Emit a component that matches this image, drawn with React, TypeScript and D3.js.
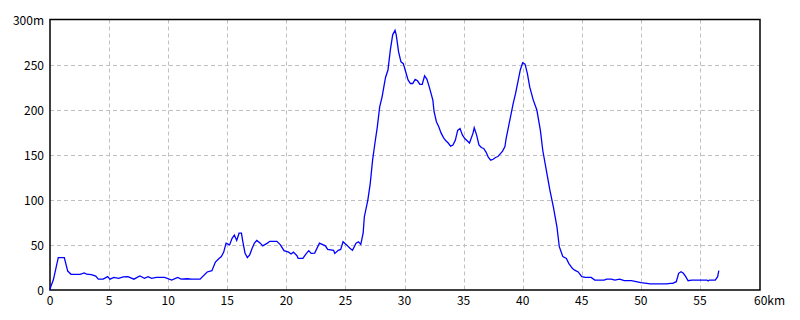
import React from "react";
import * as d3 from "d3";

const distKm: number[] = [
  0, 0.06, 0.28, 0.5, 0.7, 1.21, 1.5, 1.78, 2.54, 2.9, 3.1, 3.5, 3.87, 4.09, 4.5, 4.88, 5.08, 5.4, 5.8, 6.2,
  6.6, 7.1, 7.6, 8.0, 8.3, 8.6, 9.0, 9.7, 10.3, 10.8, 11.1, 11.6, 12.0, 12.7, 13.3, 13.7, 14.0, 14.3, 14.5, 14.7,
  14.9, 15.2, 15.4, 15.6, 15.8, 16.0, 16.2, 16.3, 16.5, 16.7, 16.9, 17.1, 17.3, 17.5, 17.8, 18.0, 18.4, 18.6, 19.2, 19.5,
  19.8, 20.2, 20.4, 20.6, 20.9, 21.0, 21.4, 21.7, 21.9, 22.1, 22.4, 22.8, 23.3, 23.5, 24.0, 24.1, 24.4, 24.6, 24.8, 25.1,
  25.4, 25.6, 25.9, 26.1, 26.3, 26.5, 26.6, 26.9, 27.1, 27.3, 27.5, 27.7, 27.9, 28.1, 28.3, 28.4, 28.6, 28.8, 29.0, 29.2,
  29.3, 29.5, 29.7, 29.9, 30.1, 30.3, 30.5, 30.7, 30.9, 31.1, 31.3, 31.5, 31.7, 31.9, 32.1, 32.4, 32.5, 32.7, 32.9, 33.1,
  33.3, 33.5, 33.7, 33.9, 34.1, 34.3, 34.5, 34.7, 34.9, 35.1, 35.3, 35.5, 35.8, 35.9, 36.1, 36.3, 36.5, 36.7, 36.9, 37.1,
  37.3, 37.5, 37.7, 37.9, 38.1, 38.3, 38.5, 38.6, 38.8, 39.0, 39.2, 39.4, 39.6, 39.8, 40.0, 40.2, 40.4, 40.6, 40.9, 41.2,
  41.5, 41.7, 42.0, 42.3, 42.6, 42.9, 43.1, 43.4, 43.7, 43.9, 44.2, 44.4, 44.7, 45.0, 45.3, 45.8, 46.1, 46.9, 47.1, 47.5,
  47.8, 48.2, 48.6, 49.2, 49.6, 50.0, 50.5, 50.8, 51.4, 52.2, 52.5, 52.7, 53.0, 53.2, 53.4, 53.6, 53.8, 54.0, 54.3, 55.0,
  55.6, 55.7, 55.8, 56.3, 56.5, 56.6,
];

const elevM: number[] = [
  0, 3.7, 11, 24, 36, 36, 21, 17.4, 17.4, 19, 17.5, 17, 15.5, 12, 12, 14.8, 12, 14, 13, 14.5,
  14.8, 12, 15.5, 13, 14.8, 13, 14, 14, 11, 14, 12, 12.5, 12, 12, 20, 21.4, 31, 35, 37, 42,
  52, 50, 57, 61, 55, 63, 63, 55, 41, 36, 39, 46, 52, 55, 52, 49, 52, 54, 54, 50,
  43.6, 42, 40, 42, 38, 35, 35, 40.7, 43.6, 40.6, 41, 52, 49, 45, 44, 40.6, 44, 45, 53.5, 50,
  46, 44, 52, 53.5, 50.6, 63, 81, 100, 118, 144, 163, 181, 203, 214, 229, 236, 244, 266, 283, 288,
  283, 264, 253, 251, 242, 233, 229, 229, 233.6, 232, 228, 228, 237.6, 233.6, 225, 210.6, 198, 186.6, 181, 174,
  169, 165.5, 163, 159.6, 160.8, 166, 177, 179, 172, 168, 165.5, 163, 174, 180, 172, 161, 158, 157, 153, 147,
  144, 145, 147, 148, 151, 154, 159, 168, 181, 194, 207, 218, 231, 244, 252, 250.5, 240, 225, 210.6, 199.6,
  177, 155, 133, 111, 92, 70, 48, 37, 35, 29.6, 24, 22, 20, 14.8, 14, 14, 11, 11, 12, 12,
  11, 12, 10.3, 10.3, 9.2, 8.1, 7.4, 6.7, 6.7, 6.7, 7.4, 7.4, 9.2, 18.5, 20.3, 18.5, 14.8, 10.3, 11, 11,
  11, 10, 11, 11, 14.8, 21.4,
];

const xTicks: number[] = [0, 5, 10, 15, 20, 25, 30, 35, 40, 45, 50, 55, 60];
const yTicks: number[] = [0, 50, 100, 150, 200, 250, 300];

const W = 800;
const H = 320;
const L = 50;
const R = 759;
const T = 19.5;
const B = 290;

export default function App() {
  const x = d3.scaleLinear().domain([0, 60]).range([L, R]);
  const y = d3.scaleLinear().domain([0, 300]).range([B, T]);
  const pts = distKm.map((d, i) => [d, elevM[i]] as [number, number]);
  const line = d3
    .line<[number, number]>()
    .x((d) => x(d[0]))
    .y((d) => y(d[1]));
  const font = "'Noto Sans CJK JP', 'DejaVu Sans', sans-serif";
  return (
    <svg
      width={W}
      height={H}
      style={{ position: "absolute", left: 0, top: 0, background: "#fff" }}
    >
      <rect x={0} y={0} width={W} height={H} fill="#fff" />
      {xTicks.slice(1, -1).map((t) => (
        <line
          key={"gx" + t}
          x1={Math.round(x(t)) + 0.5}
          x2={Math.round(x(t)) + 0.5}
          y1={T}
          y2={B}
          stroke="#c0c0c0"
          strokeDasharray="4,3"
        />
      ))}
      {yTicks.slice(1, -1).map((t) => (
        <line
          key={"gy" + t}
          x1={L}
          x2={R + 1}
          y1={Math.round(y(t)) + 0.5}
          y2={Math.round(y(t)) + 0.5}
          stroke="#c0c0c0"
          strokeDasharray="4,3"
        />
      ))}
      <rect
        x={L}
        y={T}
        width={R + 1 - L}
        height={B - T}
        fill="none"
        stroke="#000"
        strokeWidth={1.5}
      />
      <path d={line(pts) || ""} fill="none" stroke="#0000ff" strokeWidth={1.3} />
      {yTicks.map((t) => (
        <text
          key={"ly" + t}
          x={44}
          y={y(t) + 5}
          textAnchor="end"
          fontFamily={font}
          fontSize={12}
          fill="#000"
        >
          {t === 300 ? "300m" : String(t)}
        </text>
      ))}
      {xTicks.map((t) => (
        <text
          key={"lx" + t}
          x={t === 60 ? x(t) - 5 : x(t)}
          y={305}
          textAnchor={t === 60 ? "start" : "middle"}
          fontFamily={font}
          fontSize={12}
          fill="#000"
        >
          {t === 60 ? "60km" : String(t)}
        </text>
      ))}
    </svg>
  );
}
